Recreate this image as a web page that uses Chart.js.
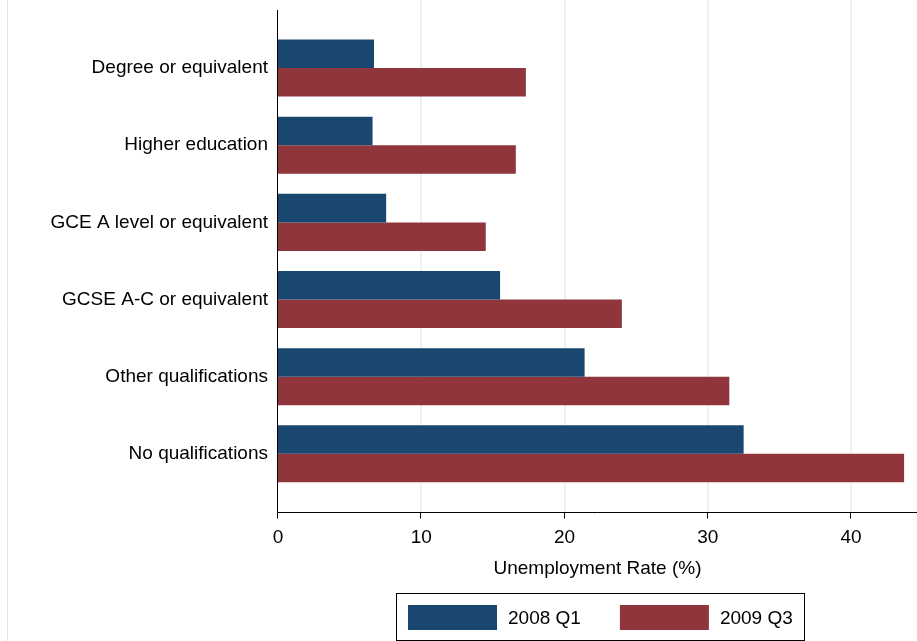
<!DOCTYPE html>
<html>
<head>
<meta charset="utf-8">
<script src="https://cdn.jsdelivr.net/npm/chart.js@4"></script>
<style>
  html, body { margin: 0; padding: 0; background: #fff; }
  #wrap { width: 917px; height: 641px; position: relative; }
</style>
</head>
<body>
<div id="wrap"><canvas id="chart"></canvas></div>
<script>
const categories = ['Degree or equivalent', 'Higher education', 'GCE A level or equivalent',
    'GCSE A-C or equivalent', 'Other qualifications', 'No qualifications'];
const seriesNames = ['2008 Q1', '2009 Q3'];
const rate2008Q1 = [6.7, 6.6, 7.55, 15.5, 21.4, 32.5];
const rate2009Q3 = [17.3, 16.6, 14.5, 24.0, 31.5, 43.7];
const xTicks = [0, 10, 20, 30, 40];

const FONT = "'Liberation Sans', Arial, sans-serif";
const GAP = 19.5; // space between bars area and the axis lines

// grid, axis lines, tick marks and a boxed legend
const frame = {
    id: 'frame',
    beforeDatasetsDraw(chart) {
        const ctx = chart.ctx, area = chart.chartArea, x = chart.scales.x;
        const axisY = area.bottom + GAP;
        ctx.save();
        // outer light frame line on the left
        ctx.strokeStyle = '#e4e4e4';
        ctx.lineWidth = 1;
        ctx.beginPath();
        ctx.moveTo(7.5, 0);
        ctx.lineTo(7.5, chart.height);
        ctx.stroke();
        ctx.strokeStyle = '#eaf2f3';
        ctx.lineWidth = 2;
        xTicks.forEach(function(t) {
            if (t === 0) return;
            const px = Math.round(x.getPixelForValue(t));
            ctx.beginPath();
            ctx.moveTo(px, 0);
            ctx.lineTo(px, axisY);
            ctx.stroke();
        });
        ctx.restore();
    },
    afterDatasetsDraw(chart) {
        const ctx = chart.ctx, area = chart.chartArea, x = chart.scales.x;
        const axisY = Math.round(area.bottom + GAP) + 0.5;
        const axisX = Math.round(area.left) - 0.5;
        ctx.save();
        ctx.strokeStyle = '#000';
        ctx.lineWidth = 1;
        ctx.beginPath();
        ctx.moveTo(axisX, area.top - GAP);
        ctx.lineTo(axisX, axisY);
        ctx.lineTo(chart.width, axisY);
        ctx.stroke();
        xTicks.forEach(function(t) {
            const px = Math.round(x.getPixelForValue(t)) - 0.5;
            ctx.beginPath();
            ctx.moveTo(px, axisY);
            ctx.lineTo(px, axisY + 6);
            ctx.stroke();
        });
        ctx.restore();
    },
    afterDraw(chart) {
        const ctx = chart.ctx, area = chart.chartArea;
        const sets = chart.data.datasets;
        const swW = 89, swH = 25, txtGap = 11, itemGap = 39, padL = 12, padR = 11;
        ctx.save();
        ctx.font = '19px ' + FONT;
        const widths = sets.map(ds => swW + txtGap + ctx.measureText(ds.label).width);
        const inner = widths.reduce((a, b) => a + b, 0) + itemGap * (sets.length - 1);
        const boxW = inner + padL + padR;
        const cx = (area.left + area.right) / 2 + 2;
        const left = Math.round(cx - boxW / 2);
        const top = 593;
        ctx.strokeStyle = '#000';
        ctx.lineWidth = 1;
        ctx.strokeRect(left + 0.5, top + 0.5, Math.round(boxW), chart.height - top - 1);
        let cur = left + padL;
        const midY = top + 24.5;
        ctx.textBaseline = 'middle';
        sets.forEach(function(ds, i) {
            ctx.fillStyle = ds.backgroundColor;
            ctx.fillRect(cur, midY - swH / 2, swW, swH);
            ctx.fillStyle = '#000';
            ctx.fillText(ds.label, cur + swW + txtGap, midY + 1);
            cur += widths[i] + itemGap;
        });
        ctx.restore();
    }
};

new Chart(document.getElementById('chart'), {
    type: 'bar',
    data: {
        labels: categories,
        datasets: [{
            label: seriesNames[0],
            data: rate2008Q1,
            backgroundColor: '#1a476f',
            borderWidth: 0
        }, {
            label: seriesNames[1],
            data: rate2009Q3,
            backgroundColor: '#90353b',
            borderWidth: 0
        }]
    },
    options: {
        indexAxis: 'y',
        responsive: true,
        maintainAspectRatio: false,
        animation: false,
        layout: { padding: { top: 29.5, right: 0, left: 0, bottom: 56 } },
        datasets: {
            bar: { categoryPercentage: 0.74, barPercentage: 1 }
        },
        scales: {
            x: {
                min: 0,
                max: 44.6,
                afterBuildTicks: function(axis) {
                    axis.ticks = xTicks.map(v => ({ value: v }));
                },
                grid: { display: false, drawTicks: false },
                border: { display: false },
                ticks: {
                    padding: 34,
                    color: '#000',
                    font: { family: FONT, size: 19 },
                    maxRotation: 0
                },
                title: {
                    display: true,
                    text: 'Unemployment Rate (%)',
                    color: '#000',
                    font: { family: FONT, size: 19 },
                    padding: { top: -26, bottom: 5 }
                }
            },
            y: {
                grid: { display: false, drawTicks: false },
                border: { display: false },
                ticks: {
                    padding: 10,
                    color: '#000',
                    font: { family: FONT, size: 19 }
                },
                afterFit: function(axis) { axis.width = 278; }
            }
        },
        plugins: {
            legend: { display: false },
            tooltip: { enabled: false }
        }
    },
    plugins: [frame]
});
</script>
</body>
</html>
